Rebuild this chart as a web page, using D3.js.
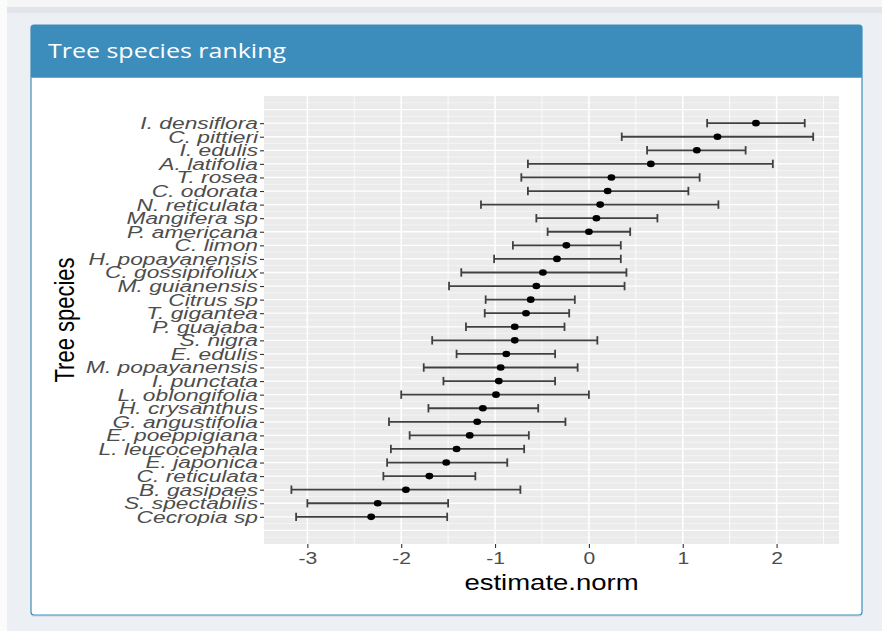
<!DOCTYPE html>
<html>
<head>
<meta charset="utf-8">
<script src="https://cdn.jsdelivr.net/npm/d3@7"></script>
<style>
  html, body { margin: 0; padding: 0; }
  body { width: 882px; height: 631px; overflow: hidden; background: #ecf0f5; }
</style>
</head>
<body>
<svg id="chart" width="882" height="631"></svg>
<script>
// ---- data ----
const species = ["I. densiflora","C. pittieri","I. edulis","A. latifolia","T. rosea","C. odorata",
  "N. reticulata","Mangifera sp","P. americana","C. limon","H. popayanensis","C. gossipifoliux",
  "M. guianensis","Citrus sp","T. gigantea","P. guajaba","S. nigra","E. edulis","M. popayanensis",
  "I. punctata","L. oblongifolia","H. crysanthus","G. angustifolia","E. poeppigiana",
  "L. leucocephala","E. japonica","C. reticulata","B. gasipaes","S. spectabilis","Cecropia sp"];
const estimate = [1.78,1.37,1.15,0.66,0.24,0.20,0.12,0.08,0.00,-0.24,-0.34,-0.49,-0.56,-0.62,-0.67,
  -0.79,-0.79,-0.88,-0.94,-0.96,-0.99,-1.13,-1.19,-1.27,-1.41,-1.52,-1.70,-1.95,-2.25,-2.32];
const lower = [1.26,0.35,0.62,-0.65,-0.72,-0.65,-1.15,-0.56,-0.44,-0.81,-1.01,-1.36,-1.49,-1.10,-1.11,
  -1.31,-1.67,-1.41,-1.76,-1.55,-2.00,-1.71,-2.13,-1.91,-2.11,-2.15,-2.19,-3.17,-3.00,-3.12];
const upper = [2.30,2.39,1.67,1.96,1.18,1.06,1.38,0.73,0.44,0.34,0.34,0.40,0.38,-0.15,-0.21,
  -0.26,0.09,-0.36,-0.12,-0.36,0.00,-0.54,-0.25,-0.64,-0.69,-0.87,-1.21,-0.73,-1.50,-1.51];
const xTicks = [-3,-2,-1,0,1,2];
const xMinor = [-3.5,-2.5,-1.5,-0.5,0.5,1.5,2.5];
const xDomain = [-3.462, 2.665];
const title = "Tree species ranking";
const xTitle = "estimate.norm";
const yTitle = "Tree species";

const rows = species.map((s, i) => ({s, est: estimate[i], lo: lower[i], hi: upper[i]}));

const svg = d3.select("#chart");

// ---- page chrome ----
svg.append("rect").attr("x",0).attr("y",0).attr("width",882).attr("height",631).attr("fill","#ecf0f5");
svg.append("rect").attr("x",0).attr("y",0).attr("width",882).attr("height",7).attr("fill","#f6f6f6");
svg.append("rect").attr("x",0).attr("y",7).attr("width",882).attr("height",6).attr("fill","#e1e4e8");
svg.append("rect").attr("x",0).attr("y",0).attr("width",7).attr("height",631).attr("fill","#fbfbfb");

// box
const box = {x: 31, y: 25, w: 831, h: 590};
svg.append("rect").attr("x",box.x).attr("y",box.y+2).attr("width",box.w).attr("height",box.h)
  .attr("rx",3).attr("fill","#d2d6de").attr("opacity",0.6);
svg.append("rect").attr("x",box.x).attr("y",box.y).attr("width",box.w).attr("height",box.h)
  .attr("rx",3).attr("fill","#ffffff").attr("stroke","#3c8dbc").attr("stroke-width",1.2);
svg.append("path")
  .attr("d",`M${box.x},${box.y+52} V${box.y+3} Q${box.x},${box.y} ${box.x+3},${box.y} H${box.x+box.w-3} Q${box.x+box.w},${box.y} ${box.x+box.w},${box.y+3} V${box.y+52} Z`)
  .attr("fill","#3c8dbc");
svg.append("line").attr("x1",box.x).attr("x2",box.x+box.w).attr("y1",box.y+52.5).attr("y2",box.y+52.5)
  .attr("stroke","#6aa9d0").attr("stroke-width",1);
svg.append("text").attr("x",48).attr("y",58).attr("fill","#ffffff")
  .attr("font-family","Open Sans, sans-serif").attr("font-size",20)
  .attr("textLength",238).attr("lengthAdjust","spacingAndGlyphs")
  .text(title);

// ---- plot ----
const panel = {l: 264, r: 839, t: 96, b: 544};
const x = d3.scaleLinear().domain(xDomain).range([panel.l, panel.r]);
const y = d3.scalePoint().domain(species).range([panel.t, panel.b]).padding(2);
const step = y.step();
const sx = 1.28; // horizontal stretch of text in the reference

const g = svg.append("g");
g.append("rect").attr("x",panel.l).attr("y",panel.t).attr("width",panel.r-panel.l).attr("height",panel.b-panel.t)
  .attr("fill","#ebebeb");

// horizontal gridlines (rows and half-rows)
const y0 = y(species[0]);
const hMajor = d3.range(-3, species.length + 3).map(k => y0 + k*step).filter(v => v > panel.t && v < panel.b);
const hMinor = d3.range(-3, species.length + 3).map(k => y0 + (k+0.5)*step).filter(v => v > panel.t && v < panel.b);
g.selectAll(".hmin").data(hMinor).join("line")
  .attr("x1",panel.l).attr("x2",panel.r).attr("y1",d=>d).attr("y2",d=>d)
  .attr("stroke","#ffffff").attr("stroke-width",0.6).attr("opacity",0.8);
g.selectAll(".hmaj").data(hMajor).join("line")
  .attr("x1",panel.l).attr("x2",panel.r).attr("y1",d=>d).attr("y2",d=>d)
  .attr("stroke","#ffffff").attr("stroke-width",1.3);
g.selectAll(".vmin").data(xMinor).join("line")
  .attr("x1",d=>x(d)).attr("x2",d=>x(d)).attr("y1",panel.t).attr("y2",panel.b)
  .attr("stroke","#ffffff").attr("stroke-width",0.8);
g.selectAll(".vmaj").data(xTicks).join("line")
  .attr("x1",d=>x(d)).attr("x2",d=>x(d)).attr("y1",panel.t).attr("y2",panel.b)
  .attr("stroke","#ffffff").attr("stroke-width",1.5);

// error bars
const cap = 4.2;
const eb = g.append("g").attr("stroke","#404040").attr("stroke-width",1.8);
eb.selectAll(".bar").data(rows).join("line")
  .attr("x1",d=>x(d.lo)).attr("x2",d=>x(d.hi)).attr("y1",d=>y(d.s)).attr("y2",d=>y(d.s));
eb.selectAll(".capl").data(rows).join("line")
  .attr("x1",d=>x(d.lo)).attr("x2",d=>x(d.lo)).attr("y1",d=>y(d.s)-cap).attr("y2",d=>y(d.s)+cap);
eb.selectAll(".caph").data(rows).join("line")
  .attr("x1",d=>x(d.hi)).attr("x2",d=>x(d.hi)).attr("y1",d=>y(d.s)-cap).attr("y2",d=>y(d.s)+cap);
g.selectAll(".pt").data(rows).join("ellipse")
  .attr("cx",d=>x(d.est)).attr("cy",d=>y(d.s)).attr("rx",3.9).attr("ry",3.3).attr("fill","#000");

// axes
const xAxis = g.append("g").attr("transform",`translate(0,${panel.b})`)
  .call(d3.axisBottom(x).tickValues(xTicks).tickSize(4).tickPadding(4).tickFormat(d3.format("d")));
xAxis.select(".domain").remove();
xAxis.selectAll("line").attr("stroke","#333333").attr("stroke-width",1.1);
xAxis.selectAll("text").attr("fill","#4d4d4d").attr("font-family","Liberation Sans, Arial, sans-serif")
  .attr("font-size",16.5).attr("transform",`scale(${sx},1)`).text(d => d < 0 ? "-" + Math.abs(d) : d);

const ysx = 1.34;
const yAxis = g.append("g").attr("transform",`translate(${panel.l},0)`)
  .call(d3.axisLeft(y).tickSize(4).tickPadding(0));
yAxis.select(".domain").remove();
yAxis.selectAll("line").attr("stroke","#333333").attr("stroke-width",1.1);
yAxis.selectAll("text").attr("fill","#4d4d4d").attr("font-family","Liberation Sans, Arial, sans-serif")
  .attr("font-size",17).attr("font-style","italic").attr("x",-6/ysx)
  .attr("transform",`scale(${ysx},1)`);

// axis titles
svg.append("text").attr("transform",`translate(${(panel.l+panel.r)/2},590) scale(1.25,1)`)
  .attr("text-anchor","middle").attr("fill","#000").attr("font-family","Liberation Sans, Arial, sans-serif")
  .attr("font-size",22).text(xTitle);
svg.append("text").attr("transform",`translate(74,${(panel.t+panel.b)/2}) scale(1.25,1) rotate(-90)`)
  .attr("text-anchor","middle").attr("fill","#000").attr("font-family","Liberation Sans, Arial, sans-serif")
  .attr("font-size",22).text(yTitle);
</script>
</body>
</html>
